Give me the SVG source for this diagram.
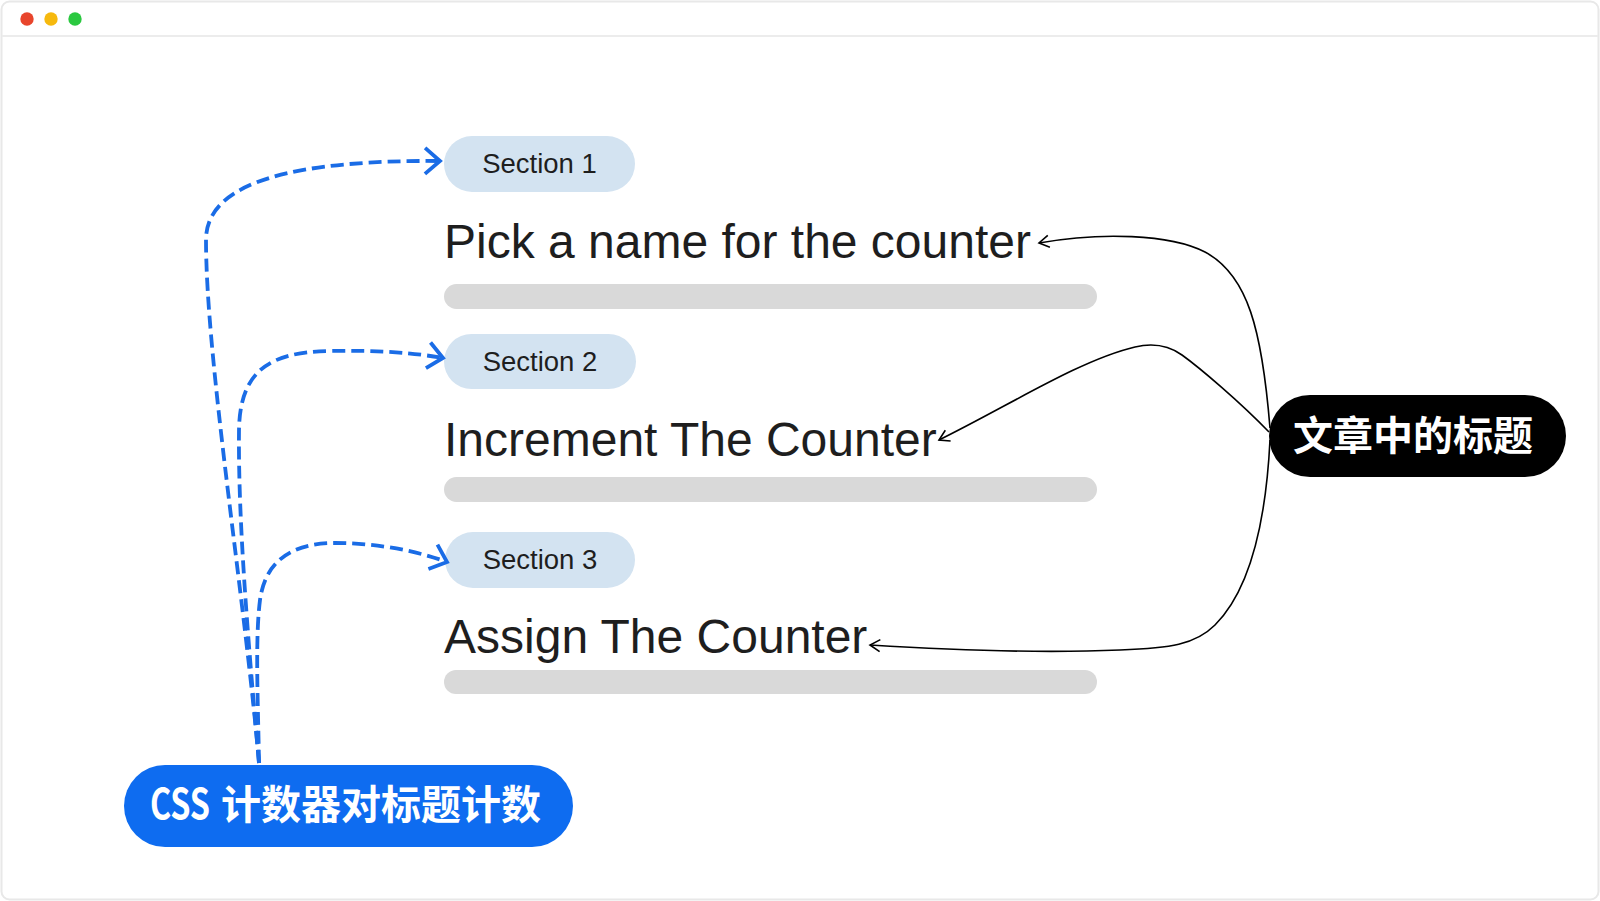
<svg xmlns="http://www.w3.org/2000/svg" width="1600" height="901" viewBox="0 0 1600 901">
<style>
.sec{fill:#d3e3f1}
.sect{font-family:"Liberation Sans",Arial,sans-serif;font-size:27.5px;fill:#1e1e1e;text-anchor:middle}
.title{font-family:"Liberation Sans",Arial,sans-serif;font-size:48px;fill:#1e1e1e}
.bar{fill:#d9d9d9}
.blue{fill:none;stroke:#1a6ce6;stroke-width:3.8;stroke-dasharray:13 6}
.blk{fill:none;stroke:#000;stroke-width:1.6}
.cjk{font-family:"Noto Sans CJK SC",sans-serif;font-weight:bold;font-size:40px;fill:#fff}
</style>
<defs>
<marker id="ab" markerUnits="userSpaceOnUse" markerWidth="40" markerHeight="40" refX="0" refY="0" orient="auto" overflow="visible">
<path d="M-15,-13 L0,0 L-15,13" fill="none" stroke="#1a6ce6" stroke-width="3.8" stroke-linejoin="miter"/>
</marker>
<marker id="ak" markerUnits="userSpaceOnUse" markerWidth="20" markerHeight="20" refX="0" refY="0" orient="auto" overflow="visible">
<path d="M-10,-6 L0,0 L-10,6" fill="none" stroke="#000" stroke-width="1.6"/>
</marker>
</defs>
<rect x="0" y="0" width="1600" height="901" fill="#fff"/>
<g id="window">
<rect x="1.5" y="1.5" width="1597" height="898" rx="8" fill="#fff" stroke="#e8e8e8" stroke-width="2"/>
<line x1="2" y1="36" x2="1598" y2="36" stroke="#ececec" stroke-width="2"/>
<circle cx="27" cy="19" r="6.7" fill="#e8452c"/>
<circle cx="51" cy="19" r="6.7" fill="#f6b90e"/>
<circle cx="75" cy="19" r="6.7" fill="#2bc840"/>
</g>
<g id="bars">
<rect class="bar" x="444" y="284" width="653" height="25" rx="12.5"/>
<rect class="bar" x="444" y="477" width="653" height="25" rx="12.5"/>
<rect class="bar" x="444" y="670" width="653" height="24" rx="12"/>
</g>
<g id="section1">
<rect class="sec" x="444" y="136" width="191" height="56" rx="28"/>
<text class="sect" x="539.5" y="173">Section 1</text>
</g>
<g id="title1"><text class="title" x="444" y="258">Pick a name for the counter</text></g>
<g id="section2">
<rect class="sec" x="444" y="334" width="192" height="55" rx="27.5"/>
<text class="sect" x="540" y="371">Section 2</text>
</g>
<g id="title2"><text class="title" x="444" y="456">Increment The Counter</text></g>
<g id="section3">
<rect class="sec" x="445" y="532" width="190" height="56" rx="28"/>
<text class="sect" x="540" y="569">Section 3</text>
</g>
<g id="title3"><text class="title" x="444" y="653">Assign The Counter</text></g>
<g id="connectors">
<path class="blue" d="M259,763 C245,600 206,360 206,240 C206,180 300,160 440,161" marker-end="url(#ab)"/>
<path class="blue" d="M259,763 C248,640 238,520 239,430 C240,370 270,352 330,351 C380,350 415,353 443,358" marker-end="url(#ab)"/>
<path class="blue" d="M259,763 C258,700 255,640 260,600 C266,555 300,543 335,543 C380,543 420,552 447,562" marker-end="url(#ab)"/>
<path class="blk" d="M1270,428 C1262,330 1248,275 1205,252 C1170,234 1100,232 1039,243" marker-end="url(#ak)"/>
<path class="blk" d="M1269,432 C1240,402 1200,368 1182,355 C1168,345 1152,343 1135,347 C1080,360 1010,405 939,440" marker-end="url(#ak)"/>
<path class="blk" d="M1270,440 C1266,520 1250,590 1215,625 C1195,645 1170,648 1120,650 C1050,653 950,650 870,645" marker-end="url(#ak)"/>
</g>
<g id="headings-node">
<rect x="1269" y="395" width="297" height="82" rx="41" fill="#000"/>
<text class="cjk" x="1413" y="450" text-anchor="middle">文章中的标题</text>
</g>
<g id="css-node">
<rect x="124" y="765" width="449" height="82" rx="41" fill="#0e6cf0"/>
<text x="150" y="819" font-family="Noto Sans CJK SC,sans-serif" font-weight="bold" font-size="42" fill="#fff" textLength="60" lengthAdjust="spacingAndGlyphs">CSS</text>
<text class="cjk" x="221" y="819">计数器对标题计数</text>
</g>
</svg>
